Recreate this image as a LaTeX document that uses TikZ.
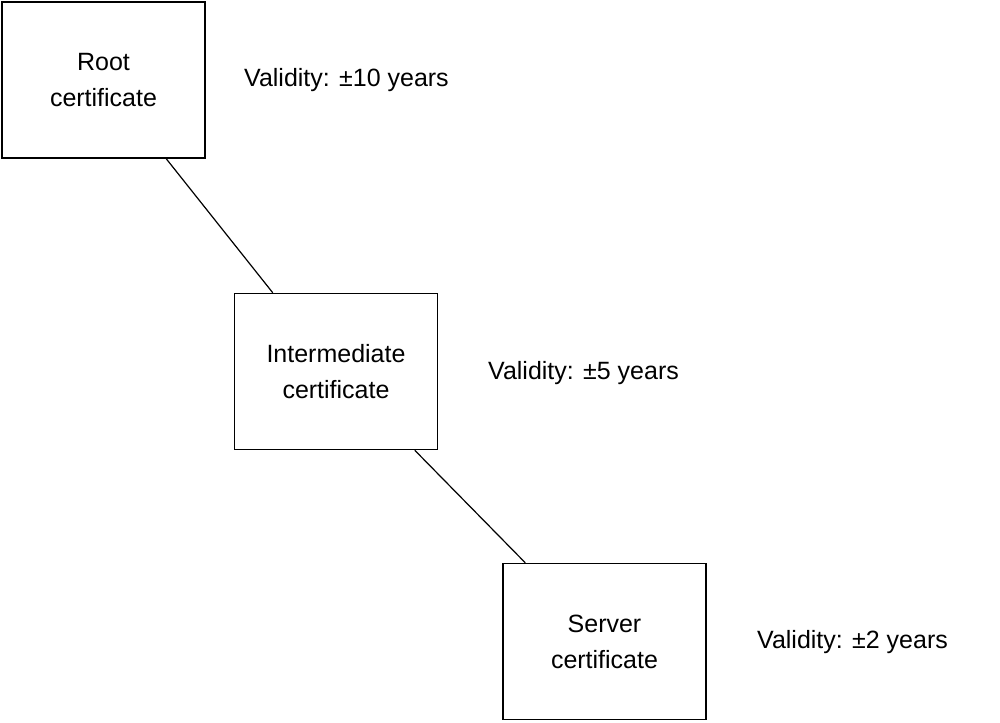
\documentclass[tikz,border=0pt]{standalone}
\usepackage{fontspec}
\setmainfont{Liberation Sans}
\usetikzlibrary{calc}
\begin{document}
\begin{tikzpicture}[x=1pt,y=-1pt,
  cert/.style={draw,line width=1.5pt,minimum width=203pt,minimum height=156pt,inner sep=0pt,align=center,font=\fontsize{25}{36}\selectfont},
  valid/.style={anchor=west,inner sep=0pt,font=\fontsize{25}{30}\selectfont},
  link/.style={line width=1.2pt}]
\useasboundingbox (0,0) rectangle (1000,722);
\node[cert] (root) at (103.5,80) {Root\\certificate};
\node[cert] (inter) at (336,371.5) {Intermediate\\certificate};
\node[cert] (server) at (604.5,641.5) {Server\\certificate};
\node[valid] (v1) at (244,80) {Validity: ±10 years};
\node[valid] (v2) at (488,373) {Validity: ±5 years};
\node[valid] (v3) at (757,642) {Validity: ±2 years};
\draw[link] ($(root.south west)+(165,0)$) -- ($(inter.north west)+(39,0)$);
\draw[link] ($(inter.south west)+(181,0)$) -- ($(server.north west)+(23,0)$);
\end{tikzpicture}
\end{document}
